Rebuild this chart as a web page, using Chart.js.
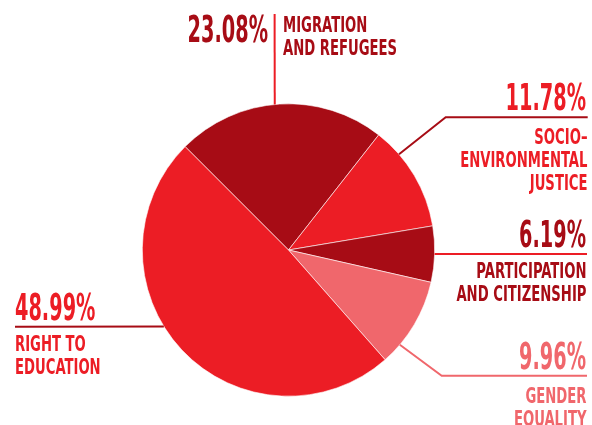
<!DOCTYPE html>
<html>
<head>
<meta charset="utf-8">
<script src="https://cdn.jsdelivr.net/npm/chart.js@4"></script>
<style>
  html, body { margin: 0; padding: 0; background: #fff; }
  canvas { display: block; }
</style>
</head>
<body>
<canvas id="pie" width="592" height="425"></canvas>
<script>
// Werte aus der Grafik (Prozent)
const categories = ['Migration and Refugees', 'Socio-Environmental Justice', 'Participation and Citizenship', 'Gender Equality', 'Right to Education'];
const shares = [23.08, 11.78, 6.19, 9.96, 48.99];
const labelLines = [
    ['MIGRATION', 'AND REFUGEES'],
    ['SOCIO–', 'ENVIRONMENTAL', 'JUSTICE'],
    ['PARTICIPATION', 'AND CITIZENSHIP'],
    ['GENDER', 'EQUALITY'],
    ['RIGHT TO', 'EDUCATION']
];

const DARK = '#a70c15';
const RED = '#ec1d25';
const LIGHT = '#f0676c';
const sliceColors = [DARK, RED, DARK, LIGHT, RED];

// Beschriftungen: Ankerwinkel am Kreis, Knickpunkte, Textpositionen
const callouts = [
    { angle: -95.4, path: [[274.6, 14]], line: RED, color: DARK,
      num: { x: 268, y: 42, align: 'right' }, text: { x: 283, y: 31.5, align: 'left' } },
    { angle: -40.9, path: [[445.7, 117.3], [587.7, 117.3]], line: DARK, color: RED,
      num: { x: 586, y: 110, align: 'right' }, text: { x: 587.5, y: 143.5, align: 'right' } },
    { angle: 1.56, path: [[587, 254]], line: RED, color: DARK,
      num: { x: 586, y: 247, align: 'right' }, text: { x: 586.5, y: 278, align: 'right' } },
    { angle: 40.4, path: [[441.7, 375.7], [587, 375.7]], line: LIGHT, color: LIGHT,
      num: { x: 586, y: 368.5, align: 'right' }, text: { x: 586.5, y: 402.5, align: 'right' } },
    { angle: 148.5, path: [[15, 326.7]], line: DARK, color: RED,
      num: { x: 15, y: 319.5, align: 'left' }, text: { x: 15, y: 351, align: 'left' } }
];

const FONT = "'DejaVu Sans Condensed', 'DejaVu Sans', sans-serif";
// schmale Schrift wie im Original (horizontal gestaucht)
const SQUEEZE_NUM = 0.58;
const SQUEEZE_TXT = 0.667;

function drawText(ctx, str, x, y, align, size, color, squeeze) {
    ctx.save();
    ctx.font = 'bold ' + size + 'px ' + FONT;
    ctx.fillStyle = color;
    ctx.textBaseline = 'alphabetic';
    ctx.textAlign = align;
    ctx.translate(x, y);
    ctx.scale(squeeze, 1);
    ctx.fillText(str, 0, 0);
    ctx.restore();
}

const calloutPlugin = {
    id: 'callouts',
    afterDatasetsDraw(chart) {
        const ctx = chart.ctx;
        const arc = chart.getDatasetMeta(0).data[0];
        const cx = arc.x, cy = arc.y, r = arc.outerRadius;

        callouts.forEach((c, i) => {
            const a = c.angle * Math.PI / 180;
            ctx.save();
            ctx.strokeStyle = c.line;
            ctx.lineWidth = 2;
            ctx.beginPath();
            ctx.moveTo(cx + r * Math.cos(a), cy + r * Math.sin(a));
            c.path.forEach(p => ctx.lineTo(p[0], p[1]));
            ctx.stroke();
            ctx.restore();

            drawText(ctx, shares[i].toFixed(2) + '%', c.num.x, c.num.y, c.num.align, 37, c.color, SQUEEZE_NUM);
            labelLines[i].forEach((line, k) => {
                drawText(ctx, line, c.text.x, c.text.y + k * 23, c.text.align, 22, c.color, SQUEEZE_TXT);
            });
        });
    }
};

new Chart(document.getElementById('pie').getContext('2d'), {
    type: 'pie',
    data: {
        labels: categories,
        datasets: [{
            data: shares,
            backgroundColor: sliceColors,
            borderColor: '#ffffff',
            borderWidth: 0.6
        }]
    },
    options: {
        responsive: false,
        animation: false,
        rotation: -45,
        layout: {
            padding: { left: 142, right: 157, top: 103, bottom: 28 }
        },
        plugins: {
            legend: { display: false },
            tooltip: { enabled: false }
        }
    },
    plugins: [calloutPlugin]
});
</script>
</body>
</html>
